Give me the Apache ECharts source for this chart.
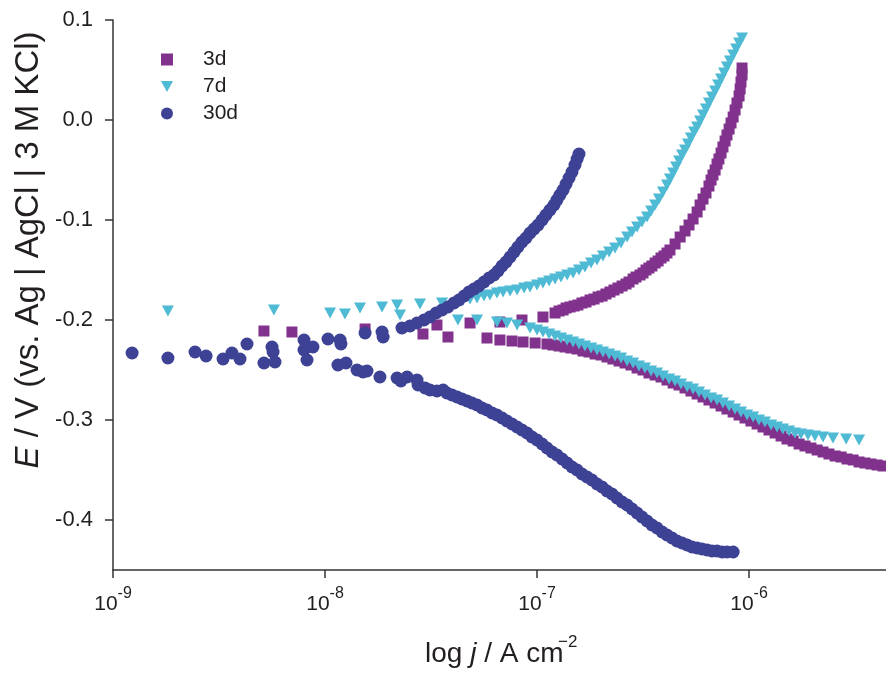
<!DOCTYPE html>
<html>
<head>
<meta charset="utf-8">
<script src="https://cdn.jsdelivr.net/npm/echarts/dist/echarts.min.js"></script>
<style>
html,body{margin:0;padding:0;background:#fff;}
#chart{width:886px;height:673px;}
</style>
</head>
<body>
<div id="chart"></div>
<script>
// x values are log10(j / A cm^-2), y values are E / V
const xTickExps = [-9, -8, -7, -6];
const yTicks = [-0.4, -0.3, -0.2, -0.1, 0.0, 0.1];
const seriesNames = ['3d', '7d', '30d'];

const s3d = [
  [-8.288,-0.211],[-8.156,-0.212],[-7.811,-0.209],[-7.538,-0.214],[-7.472,-0.205],[-7.420,-0.217],[-7.316,-0.203],
  [-7.175,-0.202],[-7.071,-0.200],[-6.972,-0.197],[-6.915,-0.193],[-6.877,-0.190],[-6.844,-0.187],[-6.807,-0.185],
  [-6.769,-0.182],[-6.731,-0.179],[-6.693,-0.176],[-6.656,-0.172],[-6.618,-0.168],[-6.580,-0.164],[-6.547,-0.159],
  [-6.514,-0.155],[-6.486,-0.150],[-6.458,-0.146],[-6.429,-0.141],[-6.401,-0.136],[-6.373,-0.130],[-6.349,-0.124],
  [-6.896,-0.191],[-6.863,-0.188],[-6.825,-0.186],[-6.788,-0.183],[-6.750,-0.180],[-6.712,-0.177],[-6.675,-0.174],
  [-6.637,-0.170],[-6.599,-0.166],[-6.566,-0.162],[-6.533,-0.157],[-6.500,-0.153],[-6.472,-0.148],[-6.443,-0.143],
  [-6.415,-0.138],[-6.387,-0.133],
  [-6.325,-0.117],[-6.302,-0.111],[-6.283,-0.105],[-6.264,-0.099],[-6.245,-0.092],[-6.231,-0.085],[-6.217,-0.079],
  [-6.203,-0.073],[-6.189,-0.066],[-6.179,-0.060],[-6.170,-0.055],[-6.160,-0.050],[-6.151,-0.044],[-6.142,-0.039],
  [-6.132,-0.033],[-6.123,-0.027],[-6.113,-0.021],[-6.104,-0.015],[-6.094,-0.009],[-6.085,-0.003],[-6.075,0.003],
  [-6.066,0.010],[-6.057,0.017],[-6.047,0.024],[-6.042,0.031],[-6.038,0.038],[-6.033,0.045],[-6.033,0.052],
  [-7.236,-0.218],[-7.175,-0.220],[-7.118,-0.221],[-7.066,-0.222],[-7.009,-0.223],
  [-6.953,-0.224],[-6.925,-0.225],[-6.896,-0.226],[-6.868,-0.227],[-6.840,-0.228],[-6.811,-0.229],[-6.783,-0.231],
  [-6.755,-0.232],[-6.726,-0.234],[-6.698,-0.235],[-6.670,-0.237],[-6.642,-0.239],[-6.613,-0.241],[-6.585,-0.243],
  [-6.557,-0.245],[-6.528,-0.248],[-6.500,-0.250],[-6.472,-0.253],[-6.443,-0.255],[-6.415,-0.257],[-6.387,-0.260],
  [-6.358,-0.263],[-6.330,-0.265],[-6.302,-0.268],[-6.274,-0.271],[-6.245,-0.274],[-6.217,-0.277],[-6.189,-0.280],
  [-6.160,-0.283],[-6.132,-0.286],[-6.104,-0.289],[-6.075,-0.292],[-6.047,-0.295],[-6.019,-0.298],[-5.991,-0.301],
  [-5.962,-0.304],[-5.934,-0.307],[-5.906,-0.310],[-5.877,-0.313],[-5.849,-0.316],[-5.821,-0.319],[-5.792,-0.321],
  [-5.764,-0.324],[-5.736,-0.326],[-5.708,-0.328],[-5.679,-0.330],[-5.651,-0.332],[-5.623,-0.334],[-5.594,-0.336],
  [-5.566,-0.337],[-5.538,-0.339],[-5.509,-0.340],[-5.481,-0.342],[-5.453,-0.343],[-5.425,-0.344],[-5.396,-0.345],
  [-5.368,-0.346]
];

const s7d = [
  [-8.741,-0.191],[-8.241,-0.190],[-7.976,-0.193],[-7.906,-0.194],[-7.835,-0.188],[-7.731,-0.187],[-7.660,-0.185],
  [-7.646,-0.195],[-7.552,-0.184],[-7.448,-0.183],
  [-7.349,-0.180],[-7.316,-0.179],[-7.283,-0.178],[-7.250,-0.176],[-7.222,-0.175],[-7.189,-0.173],[-7.160,-0.172],
  [-7.127,-0.171],[-7.094,-0.170],[-7.061,-0.168],[-7.033,-0.167],[-7.000,-0.165],[-6.972,-0.163],[-6.943,-0.161],
  [-6.915,-0.159],[-6.887,-0.157],[-6.858,-0.155],[-6.830,-0.153],[-6.802,-0.150],[-6.774,-0.147],[-6.745,-0.143],
  [-6.717,-0.140],[-6.689,-0.136],[-6.660,-0.132],[-6.632,-0.128],[-6.604,-0.123],[-6.575,-0.117],[-6.552,-0.112],
  [-6.528,-0.107],[-6.505,-0.102],[-6.481,-0.097],[-6.462,-0.091],[-6.443,-0.085],[-6.425,-0.079],[-6.406,-0.072],
  [-6.387,-0.065],[-6.373,-0.059],[-6.358,-0.053],[-6.344,-0.047],[-6.330,-0.041],[-6.316,-0.035],[-6.302,-0.030],
  [-6.288,-0.024],[-6.274,-0.018],[-6.259,-0.012],[-6.245,-0.007],[-6.231,-0.001],[-6.217,0.005],[-6.203,0.011],
  [-6.189,0.017],[-6.175,0.023],[-6.160,0.029],[-6.146,0.035],[-6.132,0.041],[-6.118,0.047],[-6.104,0.053],
  [-6.090,0.059],[-6.075,0.065],[-6.061,0.071],[-6.047,0.077],[-6.033,0.082],
  [-7.373,-0.200],[-7.283,-0.200],[-7.189,-0.202],[-7.142,-0.203],[-7.094,-0.205],[-7.033,-0.208],[-7.000,-0.210],
  [-6.972,-0.212],[-6.943,-0.214],[-6.915,-0.216],[-6.887,-0.218],[-6.858,-0.220],[-6.830,-0.222],[-6.802,-0.224],
  [-6.774,-0.226],[-6.745,-0.228],[-6.717,-0.230],[-6.689,-0.232],[-6.660,-0.234],[-6.632,-0.236],[-6.604,-0.238],
  [-6.575,-0.241],[-6.547,-0.243],[-6.519,-0.246],[-6.491,-0.248],[-6.462,-0.251],[-6.434,-0.253],[-6.406,-0.256],
  [-6.377,-0.259],[-6.349,-0.261],[-6.321,-0.264],[-6.292,-0.267],[-6.264,-0.269],[-6.236,-0.272],[-6.208,-0.275],
  [-6.179,-0.278],[-6.151,-0.280],[-6.123,-0.283],[-6.094,-0.286],[-6.066,-0.289],[-6.038,-0.292],[-6.009,-0.295],
  [-5.981,-0.297],[-5.953,-0.300],[-5.925,-0.302],[-5.896,-0.305],[-5.868,-0.307],[-5.840,-0.309],[-5.811,-0.311],
  [-5.783,-0.313],[-5.755,-0.314],[-5.722,-0.315],[-5.689,-0.316],[-5.651,-0.317],[-5.604,-0.318],[-5.542,-0.319],
  [-5.481,-0.320]
];

const s30d = [
  [-8.910,-0.233],[-8.741,-0.238],[-8.613,-0.232],[-8.561,-0.236],[-8.481,-0.239],[-8.439,-0.233],[-8.401,-0.239],
  [-8.368,-0.224],[-8.288,-0.243],[-8.250,-0.227],[-8.245,-0.232],[-8.236,-0.242],[-8.099,-0.220],[-8.099,-0.230],
  [-8.085,-0.240],[-8.057,-0.227],[-7.986,-0.219],[-7.929,-0.220],[-7.925,-0.224],[-7.811,-0.213],[-7.731,-0.212],
  [-7.726,-0.217],[-7.637,-0.208],
  [-7.599,-0.206],[-7.566,-0.203],[-7.533,-0.200],[-7.505,-0.197],[-7.476,-0.193],[-7.448,-0.190],[-7.420,-0.187],
  [-7.392,-0.183],[-7.368,-0.180],[-7.344,-0.176],[-7.321,-0.172],[-7.297,-0.169],[-7.274,-0.166],[-7.250,-0.162],
  [-7.226,-0.158],[-7.203,-0.155],[-7.184,-0.151],[-7.165,-0.146],[-7.146,-0.142],[-7.127,-0.137],[-7.108,-0.132],
  [-7.090,-0.127],[-7.071,-0.122],[-7.052,-0.118],[-7.033,-0.113],[-7.014,-0.109],[-6.995,-0.105],[-6.976,-0.100],
  [-6.958,-0.095],[-6.939,-0.090],[-6.920,-0.085],[-6.906,-0.080],[-6.892,-0.075],[-6.877,-0.070],[-6.863,-0.064],
  [-6.849,-0.058],[-6.835,-0.052],[-6.821,-0.045],[-6.811,-0.039],[-6.802,-0.034],
  [-7.939,-0.245],[-7.901,-0.243],[-7.849,-0.250],[-7.821,-0.252],[-7.802,-0.251],[-7.741,-0.257],[-7.660,-0.258],
  [-7.642,-0.261],[-7.613,-0.257],[-7.566,-0.260],[-7.561,-0.265],[-7.528,-0.268],[-7.505,-0.270],[-7.472,-0.271],
  [-7.443,-0.270],[-7.425,-0.273],[-7.401,-0.275],[-7.377,-0.277],[-7.354,-0.279],[-7.330,-0.281],[-7.307,-0.283],
  [-7.283,-0.285],[-7.259,-0.288],[-7.236,-0.290],[-7.212,-0.293],[-7.189,-0.295],[-7.165,-0.298],[-7.142,-0.301],
  [-7.118,-0.304],[-7.094,-0.307],[-7.071,-0.310],[-7.047,-0.313],[-7.024,-0.317],[-7.000,-0.320],[-6.976,-0.324],
  [-6.953,-0.328],[-6.929,-0.332],[-6.906,-0.335],[-6.882,-0.339],[-6.858,-0.343],[-6.835,-0.347],[-6.811,-0.350],
  [-6.788,-0.354],[-6.764,-0.357],[-6.741,-0.360],[-6.717,-0.364],[-6.693,-0.367],[-6.670,-0.371],[-6.646,-0.374],
  [-6.623,-0.378],[-6.599,-0.382],[-6.575,-0.385],[-6.552,-0.389],[-6.528,-0.393],[-6.505,-0.397],[-6.481,-0.401],
  [-6.458,-0.405],[-6.434,-0.408],[-6.410,-0.412],[-6.387,-0.415],[-6.363,-0.418],[-6.340,-0.421],[-6.316,-0.423],
  [-6.292,-0.425],[-6.269,-0.427],[-6.245,-0.428],[-6.222,-0.429],[-6.198,-0.430],[-6.175,-0.431],[-6.151,-0.431],
  [-6.127,-0.432],[-6.104,-0.432],[-6.075,-0.432]
];

const FONT = 'Liberation Sans, Arial, sans-serif';
const TXT = '#231f20';
const AX = '#333';
const C3 = '#80328c', C7 = '#4ebad4', C30 = '#3e4294';

const chart = echarts.init(document.getElementById('chart'), null, {renderer: 'canvas'});
chart.setOption({
  animation: false,
  backgroundColor: '#fff',
  textStyle: {fontFamily: FONT},
  grid: {left: 113, right: 0, top: 20, bottom: 103, containLabel: false},
  legend: {
    data: [
      {name: '3d', icon: 'rect'},
      {name: '7d', icon: 'path://M0,0 L12,0 L6,11 Z'},
      {name: '30d', icon: 'circle'}
    ],
    orient: 'vertical',
    left: 156,
    top: 44,
    itemWidth: 12,
    itemHeight: 12,
    itemGap: 6,
    textStyle: {fontSize: 21, color: TXT, fontFamily: FONT, padding: [0, 0, 0, 25]}
  },
  xAxis: {
    type: 'value',
    min: -9,
    max: -5.354,
    axisLine: {onZero: false, lineStyle: {color: AX, width: 1.5}},
    axisTick: {customValues: xTickExps, length: 8, lineStyle: {color: AX, width: 1.5}},
    splitLine: {show: false},
    axisLabel: {
      customValues: xTickExps,
      margin: 16,
      formatter: v => '{b|10}{s|' + v + '}',
      rich: {
        b: {fontSize: 21, fontFamily: FONT, color: TXT, lineHeight: 29, verticalAlign: 'bottom'},
        s: {fontSize: 16, fontFamily: FONT, color: TXT, lineHeight: 16, verticalAlign: 'top'}
      }
    }
  },
  yAxis: {
    type: 'value',
    min: -0.45,
    max: 0.1,
    axisLine: {onZero: false, lineStyle: {color: AX, width: 1.5}},
    axisTick: {customValues: yTicks, length: 8, lineStyle: {color: AX, width: 1.5}},
    splitLine: {show: false},
    axisLabel: {
      customValues: yTicks,
      margin: 20,
      fontSize: 22,
      color: TXT,
      fontFamily: FONT,
      formatter: v => v.toFixed(1)
    }
  },
  graphic: [
    {
      type: 'text', x: 29, y: 250, rotation: Math.PI / 2,
      style: {
        text: '{i|E} / V (vs. Ag | AgCl | 3 M KCl)',
        fontSize: 33, fontFamily: FONT, fill: TXT, align: 'center', verticalAlign: 'middle',
        rich: {i: {fontSize: 33, fontFamily: FONT, fontStyle: 'italic', fill: TXT}}
      }
    },
    {
      type: 'text', x: 425, y: 640,
      style: {
        text: 'log {i|j} / A cm',
        fontSize: 28, fontFamily: FONT, fill: TXT, align: 'left', verticalAlign: 'top',
        rich: {i: {fontSize: 28, fontFamily: FONT, fontStyle: 'italic', fill: TXT}}
      }
    },
    {
      type: 'text', x: 558, y: 634,
      style: {text: '\u22122', fontSize: 17, fontFamily: FONT, fill: TXT, align: 'left', verticalAlign: 'top'}
    }
  ],
  series: [
    {name: '3d', type: 'scatter', data: s3d, symbol: 'rect', symbolSize: 11,
     itemStyle: {color: C3, opacity: 1}},
    {name: '7d', type: 'scatter', data: s7d, symbol: 'triangle', symbolRotate: 180, symbolSize: [12, 11],
     itemStyle: {color: C7, opacity: 1}},
    {name: '30d', type: 'scatter', data: s30d, symbol: 'circle', symbolSize: 13,
     itemStyle: {color: C30, opacity: 1}}
  ]
});
</script>
</body>
</html>
